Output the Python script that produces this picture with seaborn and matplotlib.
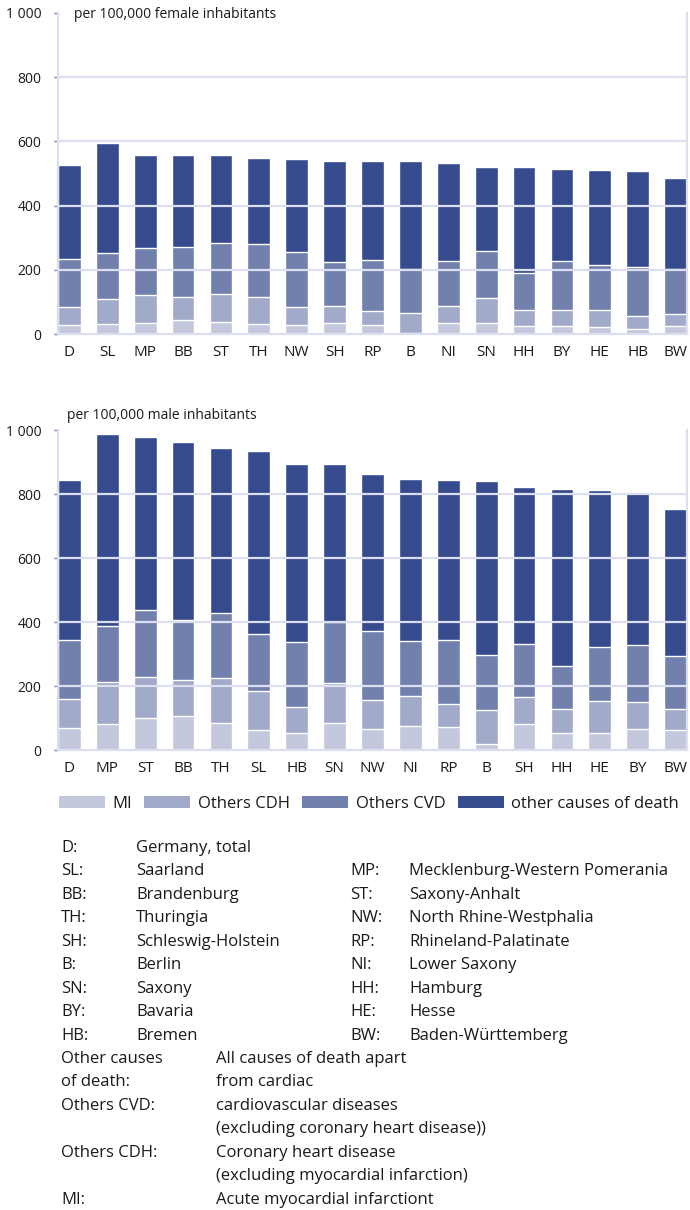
import matplotlib
matplotlib.use('Agg')
import matplotlib.pyplot as plt
from matplotlib.patches import Patch
import numpy as np
import pandas as pd
import seaborn as sns

# categories (sorted by total, separately for each sex)
female_regions = ['D', 'SL', 'MP', 'BB', 'ST', 'TH', 'NW', 'SH', 'RP', 'B', 'NI', 'SN', 'HH', 'BY', 'HE', 'HB', 'BW']
male_regions = ['D', 'MP', 'ST', 'BB', 'TH', 'SL', 'HB', 'SN', 'NW', 'NI', 'RP', 'B', 'SH', 'HH', 'HE', 'BY', 'BW']

# deaths per 100,000 by cause
female_mi = [29, 32, 35, 45, 38, 32, 29, 35, 29, 4, 35, 35, 26, 26, 23, 17, 26]
female_cdh = [56, 78, 87, 71, 88, 84, 56, 53, 44, 62, 53, 78, 50, 50, 53, 40, 37]
female_cvd = [150, 143, 147, 156, 159, 165, 171, 137, 159, 138, 140, 147, 115, 152, 140, 153, 141]
female_other = [292, 343, 288, 285, 272, 268, 290, 315, 308, 336, 306, 261, 330, 287, 296, 299, 283]

male_mi = [69, 81, 100, 106, 84, 63, 53, 84, 66, 75, 72, 19, 81, 53, 53, 66, 63]
male_cdh = [90, 132, 128, 113, 141, 121, 81, 125, 90, 94, 72, 106, 85, 75, 100, 84, 65]
male_cvd = [185, 175, 210, 187, 203, 179, 204, 191, 216, 172, 200, 172, 165, 135, 169, 178, 166]
male_other = [500, 600, 540, 557, 516, 571, 556, 494, 491, 506, 500, 544, 491, 553, 491, 478, 459]

causes = ['MI', 'Others CDH', 'Others CVD', 'other causes of death']
colors = ['#c3c8dc', '#a2aac9', '#7280ae', '#364a8e']

yticks = [0, 200, 400, 600, 800, 1000]
ytick_labels = ['0', '200', '400', '600', '800', '1 000']

region_names = [
    ('D:', 'Germany, total', None, None),
    ('SL:', 'Saarland', 'MP:', 'Mecklenburg-Western Pomerania'),
    ('BB:', 'Brandenburg', 'ST:', 'Saxony-Anhalt'),
    ('TH:', 'Thuringia', 'NW:', 'North Rhine-Westphalia'),
    ('SH:', 'Schleswig-Holstein', 'RP:', 'Rhineland-Palatinate'),
    ('B:', 'Berlin', 'NI:', 'Lower Saxony'),
    ('SN:', 'Saxony', 'HH:', 'Hamburg'),
    ('BY:', 'Bavaria', 'HE:', 'Hesse'),
    ('HB:', 'Bremen', 'BW:', 'Baden-Württemberg'),
]
definitions = [
    ('Other causes', 'All causes of death apart'),
    ('of death:', 'from cardiac'),
    ('Others CVD:', 'cardiovascular diseases'),
    ('', '(excluding coronary heart disease))'),
    ('Others CDH:', 'Coronary heart disease'),
    ('', '(excluding myocardial infarction)'),
    ('MI:', 'Acute myocardial infarctiont'),
]

sns.set_style('white')
plt.rcParams['font.family'] = ['Open Sans', 'DejaVu Sans']
txt = '#1a1a1a'
grid_c = '#dcdfef'

W, H = 690, 1210
fig = plt.figure(figsize=(W / 100, H / 100), dpi=100)


def stacked(ax, regions, layers):
    df = pd.DataFrame(dict(zip(causes, layers)), index=regions)
    cum = df.cumsum(axis=1)
    # draw tallest layer first so smaller ones sit on top
    for cause, col in zip(causes[::-1], colors[::-1]):
        sns.barplot(x=regions, y=cum[cause].values, order=regions, color=col,
                    saturation=1, width=0.6, ax=ax, zorder=2)
    for y in [200, 400, 600, 800]:
        ax.axhline(y, color=grid_c, lw=1.6, zorder=3)
    ax.set_xlim(-0.3, len(regions) - 0.7)
    ax.set_ylim(0, 1000)
    ax.set_yticks(yticks)
    ax.set_yticklabels(ytick_labels, fontsize=10, color=txt)
    ax.tick_params(axis='y', length=3, width=1, color='#7080b0', pad=9, left=True)
    ax.tick_params(axis='x', length=0, pad=8, labelsize=11, labelcolor=txt)
    for s in ['left', 'right', 'bottom']:
        ax.spines[s].set_color(grid_c)
        ax.spines[s].set_linewidth(1.6)
        ax.spines[s].set_zorder(4)
    ax.spines['top'].set_visible(False)
    ax.set_xlabel('')
    ax.set_ylabel('')


ax1 = fig.add_axes([58 / W, 1 - 334 / H, 629 / W, 321 / H])
stacked(ax1, female_regions, [female_mi, female_cdh, female_cvd, female_other])
fig.text(74 / W, 1 - 14 / H, 'per 100,000 female inhabitants', fontsize=10, color=txt, va='center')

ax2 = fig.add_axes([58 / W, 1 - 750 / H, 629 / W, 320 / H])
stacked(ax2, male_regions, [male_mi, male_cdh, male_cvd, male_other])
fig.text(67 / W, 1 - 415 / H, 'per 100,000 male inhabitants', fontsize=10, color=txt, va='center')

handles = [Patch(facecolor=c, edgecolor='none') for c in colors]
fig.legend(handles, causes, loc='center left', bbox_to_anchor=(59 / W, 1 - 804 / H),
           ncol=4, frameon=False, fontsize=12, handlelength=2.75, handleheight=0.72,
           handletextpad=0.45, columnspacing=0.75, borderpad=0, borderaxespad=0,
           labelcolor=txt)

fs = 12
row_h = 23.45
y0 = 848
for i, (a1, n1, a2, n2) in enumerate(region_names):
    y = 1 - (y0 + i * row_h) / H
    fig.text(61 / W, y, a1, fontsize=fs, color=txt, va='center')
    fig.text(136 / W, y, n1, fontsize=fs, color=txt, va='center')
    if a2:
        fig.text(350 / W, y, a2, fontsize=fs, color=txt, va='center')
        fig.text(409 / W, y, n2, fontsize=fs, color=txt, va='center')
for j, (lab, desc) in enumerate(definitions):
    y = 1 - (y0 + (len(region_names) + j) * row_h) / H
    fig.text(61 / W, y, lab, fontsize=fs, color=txt, va='center')
    fig.text(216 / W, y, desc, fontsize=fs, color=txt, va='center')

fig.savefig('out.png', dpi=100)
